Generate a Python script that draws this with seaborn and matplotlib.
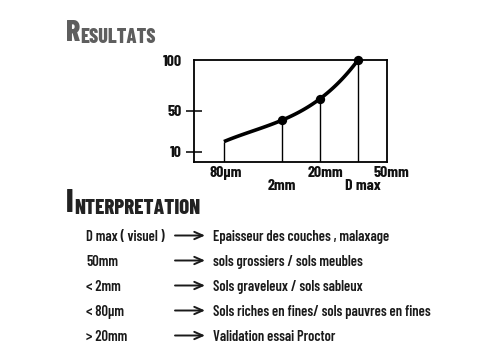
import numpy as np
import pandas as pd
import matplotlib
matplotlib.use("Agg")
import matplotlib.pyplot as plt
import matplotlib.transforms as mtrans
import seaborn as sns

# ---- data ----
size_labels = ['80µm', '2mm', '20mm', 'D max', '50mm']
size_pos = [1.55, 4.56, 6.53, 8.5, 10.0]       # schematic position on the x axis
passing = [20, 41, 62, 100]                    # % passing at 80µm, 2mm, 20mm, D max
marked = [False, True, True, True]
y_ticks = [10, 50, 100]

rows_left = ['D max ( visuel )', '50mm', '< 2mm', '< 80µm', '> 20mm']
rows_right = ['Epaisseur des couches , malaxage',
              'sols grossiers / sols meubles',
              'Sols graveleux / sols sableux',
              'Sols riches en fines/ sols pauvres en fines',
              'Validation essai Proctor']

sns.set_theme(style='white')
FONT = ['Barlow Condensed', 'DejaVu Sans']
plt.rcParams['font.family'] = FONT

W, H = 483, 364
fig = plt.figure(figsize=(W / 100, H / 100), dpi=100)
fig.patch.set_facecolor('white')

def fx(x):
    return x / W

def fy(y):
    return 1 - y / H

ax = fig.add_axes([fx(194), fy(162), (387 - 194) / W, (162 - 60) / H])
ax.set_facecolor('white')

df = pd.DataFrame({'x': size_pos[:4], 'y': passing, 'm': marked})

# smooth curve through the points (cubic through the 4 points)
sns.regplot(data=df, x='x', y='y', order=3, ci=None, scatter=False, truncate=True,
            line_kws=dict(color='black', lw=2.6, solid_capstyle='butt'), ax=ax)
# vertical drop lines
ax.vlines(df['x'], 0, df['y'], color='black', lw=1.0)
# markers
sns.scatterplot(data=df[df['m']], x='x', y='y', color='black', s=45,
                edgecolor='black', linewidth=0, ax=ax, zorder=5, clip_on=False)

ax.set_xlim(0, 10)
ax.set_ylim(0, 100)
ax.set_xlabel('')
ax.set_ylabel('')
for s in ax.spines.values():
    s.set_color('black')
    s.set_linewidth(1.3)

# x tick labels, staggered
major_idx = [0, 2, 4]
minor_idx = [1, 3]
ax.set_xticks([size_pos[i] for i in major_idx])
ax.set_xticklabels([size_labels[i] for i in major_idx])
ax.set_xticks([size_pos[i] for i in minor_idx], minor=True)
ax.set_xticklabels([size_labels[i] for i in minor_idx], minor=True)
ax.tick_params(axis='x', which='major', length=0, pad=3, labelsize=11.5)
ax.tick_params(axis='x', which='minor', length=0, pad=12.5, labelsize=11.5)
shift_major = [2, 5, 4]
shift_minor = [0, 5]
for lab, dx in zip(ax.get_xticklabels(), shift_major):
    lab.set_transform(lab.get_transform() +
                      mtrans.ScaledTranslation(dx / 100, 0, fig.dpi_scale_trans))
for lab, dx in zip(ax.get_xticklabels(minor=True), shift_minor):
    lab.set_transform(lab.get_transform() +
                      mtrans.ScaledTranslation(dx / 100, 0, fig.dpi_scale_trans))
for lab in ax.get_xticklabels(which='both'):
    lab.set_fontweight(700)
    lab.set_color('#111111')

ax.set_yticks(y_ticks)
ax.set_yticklabels([str(v) for v in y_ticks])
ax.tick_params(axis='y', which='major', direction='inout', length=11.5, width=1.1,
               color='black', pad=3, labelsize=11.5, left=True)
for lab in ax.get_yticklabels():
    lab.set_fontweight(700)
    lab.set_color('#111111')
ax.yaxis.get_major_ticks()[2].tick1line.set_visible(False)

# titles with small-caps look
def smallcaps(x, y, first, rest, color, big, small):
    t1 = fig.text(fx(x), fy(y), first, fontsize=big, fontweight=800,
                  color=color, va='baseline', ha='left')
    ax.annotate(rest, xy=(1, 0), xycoords=t1, xytext=(0.3, 0),
                textcoords='offset points', fontsize=small, fontweight=800,
                color=color, va='bottom', ha='left', annotation_clip=False)
    return t1

smallcaps(66, 41, 'R', 'ESULTATS', '#5e5e5e', 21.5, 14.5)
smallcaps(66, 212, 'I', 'NTERPRETATION', '#222222', 23, 15)

# interpretation rows
baselines = [241, 266, 291, 316, 341]
for lt, rt, b in zip(rows_left, rows_right, baselines):
    fig.text(fx(86), fy(b), lt, fontsize=10.5, fontweight=600, color='#1a1a1a',
             va='baseline', ha='left')
    fig.text(fx(213), fy(b), rt, fontsize=10.5, fontweight=600, color='#1a1a1a',
             va='baseline', ha='left')
    ya = fy(b - 5.5)
    ax.annotate('', xy=(fx(205), ya), xytext=(fx(175), ya),
                xycoords='figure fraction', textcoords='figure fraction',
                arrowprops=dict(arrowstyle='->,head_length=0.5,head_width=0.22',
                                color='#1a1a1a', lw=1.4, shrinkA=0, shrinkB=0),
                annotation_clip=False)

fig.savefig('out.png', dpi=100, facecolor='white')
